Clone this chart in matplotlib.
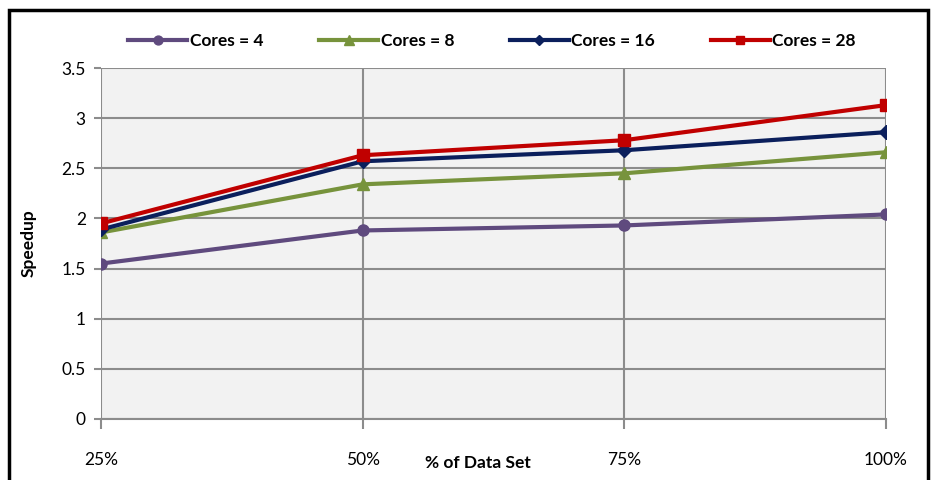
import numpy as np
import matplotlib.pyplot as plt
from matplotlib.patches import Rectangle

plt.rcParams['font.family'] = ['Lato', 'DejaVu Sans']
plt.rcParams['font.size'] = 12

# speedup vs. fraction of the data set
sizes = ["25%", "50%", "75%", "100%"]
cores4 = [1.55, 1.88, 1.93, 2.04]
cores8 = [1.86, 2.34, 2.45, 2.66]
cores16 = [1.89, 2.57, 2.68, 2.86]
cores28 = [1.95, 2.63, 2.78, 3.13]

series = [
    (cores4, 'Cores = 4', '#5f4a7e', 'o', 8),
    (cores8, 'Cores = 8', '#77933c', '^', 9),
    (cores16, 'Cores = 16', '#0b1f5c', 'D', 7),
    (cores28, 'Cores = 28', '#c00000', 's', 8),
]

fig = plt.figure(figsize=(9.32, 4.8), dpi=100)
ax = fig.add_axes([0.1084, 0.1271, 0.8422, 0.7312])
ax.set_facecolor('#f2f2f2')

x = np.arange(len(sizes))
for vals, lab, col, mk, ms in series:
    ax.plot(x, vals, color=col, linewidth=3, marker=mk, markersize=ms,
            markerfacecolor=col, markeredgecolor=col, label=lab, zorder=3)

ax.set_xlim(0, 3)
ax.set_ylim(0, 3.5)
ax.set_yticks(np.arange(0, 3.51, 0.5))
ax.set_yticklabels(['0', '0.5', '1', '1.5', '2', '2.5', '3', '3.5'])
ax.set_xticks(x)
ax.set_xticklabels(sizes)

ax.grid(True, color='#8c8c8c', linewidth=1.5)
ax.set_axisbelow(True)
for s in ['top', 'right', 'left']:
    ax.spines[s].set_visible(False)
ax.spines['bottom'].set_color('#8c8c8c')
ax.spines['bottom'].set_linewidth(1.5)

ax.tick_params(axis='x', direction='out', length=7, width=1.5, color='#8c8c8c',
               pad=17, labelsize=12.5)
ax.tick_params(axis='y', direction='out', length=5, width=1.5, color='#8c8c8c',
               pad=6, labelsize=12.5)

ax.set_ylabel('Speedup', fontweight='bold', fontsize=12.5, labelpad=18)
fig.text(0.513, 0.035, '% of Data Set', fontweight='bold', fontsize=12.5,
         ha='center', va='center')

fig.legend(loc='center', bbox_to_anchor=(0.528, 0.915), ncol=4, frameon=False,
           prop={'weight': 'bold', 'size': 12.5}, handlelength=3.4,
           columnspacing=3.2, handletextpad=0.15, markerscale=0.8)

# outer frame
fig.patches.append(Rectangle((0.0097, -0.05), 0.986, 1.029, transform=fig.transFigure,
                             fill=False, edgecolor='black', linewidth=2.5))

fig.savefig('out.png', dpi=100)
